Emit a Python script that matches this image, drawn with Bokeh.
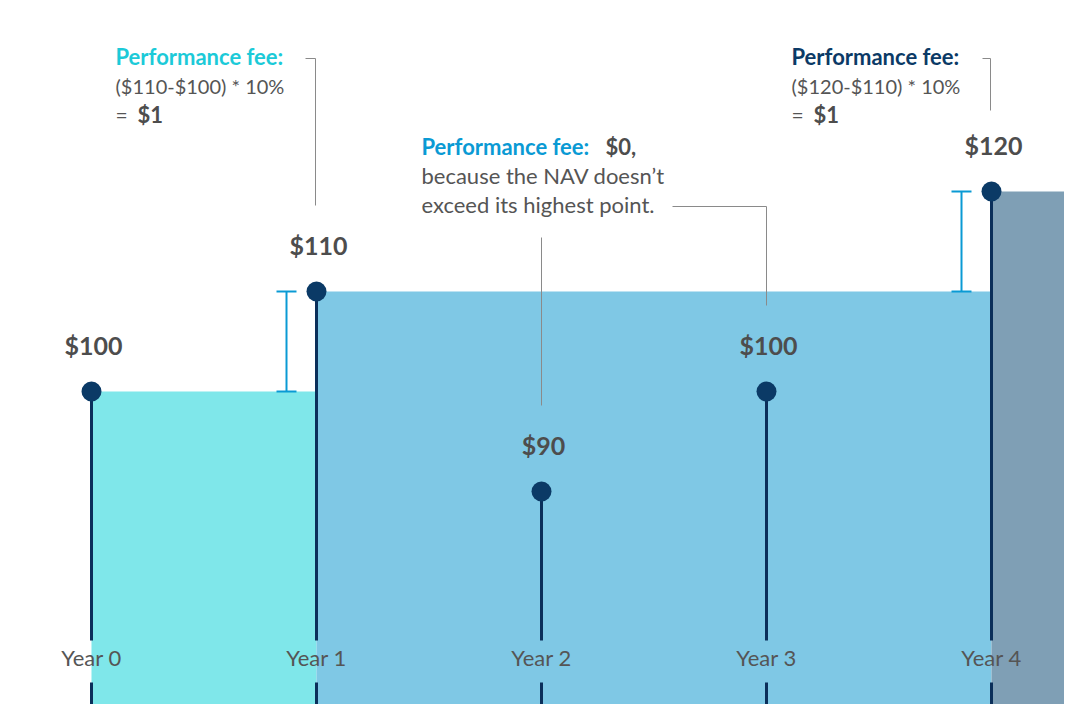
from bokeh.plotting import figure
from bokeh.models import Range1d, Label
from bokeh.embed import file_html
from bokeh.resources import INLINE

# ---- data ----
years = ["Year 0", "Year 1", "Year 2", "Year 3", "Year 4"]
year_idx = [0, 1, 2, 3, 4]
nav = [100, 110, 90, 100, 120]
high_water = [100, 110, 110, 110, 120]
value_labels = ["$100", "$110", "$90", "$100", "$120"]

# fee brackets: (year index, from, to)
fee_years = [1, 4]
fee_from = [100, 110]
fee_to = [110, 120]

W, H = 1064, 704
FONT = "Lato"

# reference pixel -> data helpers, for annotation placement only
def dx(X):
    return (X - 91) / 225.0

def dy(Y):
    return 100 + (391 - Y) / 10.0

p = figure(width=W, height=H, output_backend="svg", toolbar_location=None,
           x_range=Range1d(dx(0), dx(W)), y_range=Range1d(dy(H), dy(0)),
           min_border=0)
p.axis.visible = False
p.grid.visible = False
p.outline_line_color = None
p.background_fill_color = "white"

# shaded regions (high-water mark steps)
region_colors = ["#7fe7ea", "#7fc8e5", "#7f9fb5"]
lefts = [0, 1, 4]
rights = [1, 4, 6]
tops = [high_water[0], high_water[1], high_water[4]]
p.quad(left=lefts, right=rights, bottom=[40] * 3, top=tops,
       fill_color=region_colors, line_color=None)

# stems (broken around year labels)
gap_top = dy(640)
gap_bot = dy(682)
for i, v in zip(year_idx, nav):
    p.segment(x0=[i], y0=[v], x1=[i], y1=[gap_top], line_color="#0b2f5a", line_width=3)
    p.segment(x0=[i], y0=[gap_bot], x1=[i], y1=[40], line_color="#0b2f5a", line_width=3)

# points
p.scatter(x=year_idx, y=nav, size=20, fill_color="#0b3a66", line_color=None)

# value labels
for i, v, t in zip(year_idx, nav, value_labels):
    p.add_layout(Label(x=i, y=v, text=t, text_align="center", text_baseline="middle",
                       y_offset=47, x_offset=2, text_font=FONT, text_font_style="bold",
                       text_font_size="25px", text_color="#4d4d4d"))

# year labels
for i, t in zip(year_idx, years):
    p.add_layout(Label(x=i, y=dy(657), text=t, text_align="center", text_baseline="middle",
                       text_font=FONT, text_font_size="22px", text_color="#555555"))

# fee brackets
off = 30 / 225.0
cap = 10 / 225.0
for i, a, b in zip(fee_years, fee_from, fee_to):
    x = i - off
    p.segment(x0=[x], y0=[a], x1=[x], y1=[b], line_color="#0a9ad4", line_width=2)
    p.segment(x0=[x - cap, x - cap], y0=[a, b], x1=[x + cap, x + cap], y1=[a, b],
              line_color="#0a9ad4", line_width=2)

# callout leader lines
lc = "#8a8a8a"
p.line(x=[dx(305), dx(315), dx(315)], y=[dy(58), dy(58), dy(205)], line_color=lc, line_width=1)
p.line(x=[dx(672), dx(766), dx(766)], y=[dy(206), dy(206), dy(305)], line_color=lc, line_width=1)
p.line(x=[dx(541), dx(541)], y=[dy(237), dy(405)], line_color=lc, line_width=1)
p.line(x=[dx(982), dx(990), dx(990)], y=[dy(58), dy(58), dy(110)], line_color=lc, line_width=1)

def txt(X, Y, s, color="#555555", bold=False, size="21px"):
    p.add_layout(Label(x=dx(X), y=dy(Y), text=s, text_align="left", text_baseline="middle",
                       text_font=FONT, text_font_style="bold" if bold else "normal",
                       text_font_size=size, text_color=color))

HS = "22px"
# annotation 1
txt(115, 56, "Performance fee:", "#1ccad8", True, HS)
txt(115, 85, "($110-$100) * 10%", size="20px")
txt(115, 114, "=")
txt(137, 114, "$1", "#4d4d4d", True, HS)

# annotation 2
txt(421, 146, "Performance fee:", "#0a9ad4", True, HS)
txt(605, 146, "$0,", "#4d4d4d", True, HS)
txt(421, 175, "because the NAV doesn\u2019t", size="22px")
txt(421, 204, "exceed its highest point.", size="22px")

# annotation 3
txt(791, 56, "Performance fee:", "#0b3a66", True, HS)
txt(791, 85, "($120-$110) * 10%", size="20px")
txt(791, 114, "=")
txt(813, 114, "$1", "#4d4d4d", True, HS)

open("out.html", "w").write(file_html(p, INLINE))
